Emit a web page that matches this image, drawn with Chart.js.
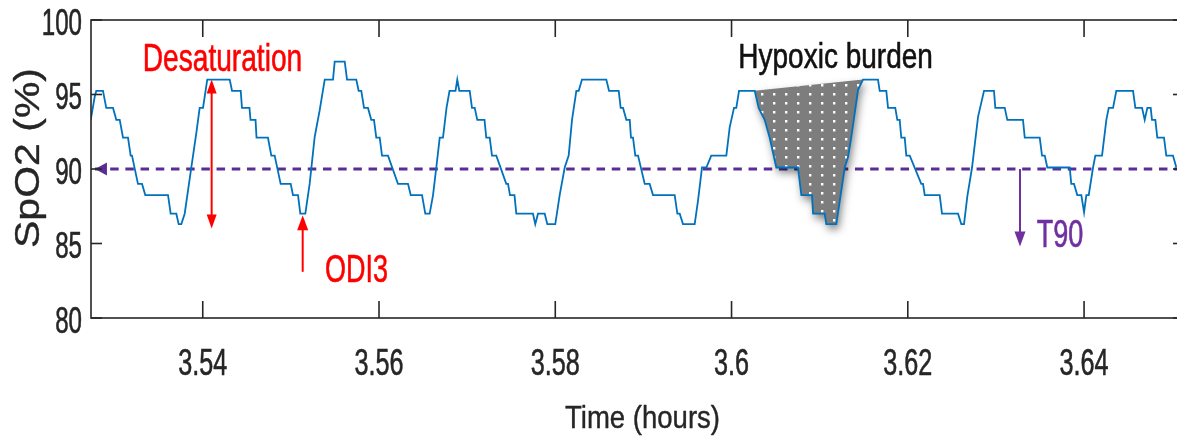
<!DOCTYPE html>
<html lang="en">
<head>
<meta charset="UTF-8" />
<title>SpO2 trace – desaturation, ODI3, T90, hypoxic burden</title>
<script src="https://cdn.jsdelivr.net/npm/chart.js@4.4.1/dist/chart.umd.min.js"></script>
<style>
html,body{margin:0;padding:0;background:#fff;overflow:hidden}
.wrap{width:1186px;height:439px;position:relative}
</style>
</head>
<body>
<div class="wrap"><canvas id="spo2Chart"></canvas></div>

<script>
/* ── trace: time (hours) / SpO2 (%) ─────────────────────────────── */
const timeH = [
  3.52729,3.52774,3.52792,3.52868,3.52905,3.52982,3.53019,3.53058,3.53095,3.53152,
  3.53182,3.53197,3.53265,3.53311,3.53348,3.53606,3.53636,3.53700,3.53727,3.53757,
  3.53795,3.53870,3.53927,3.53965,3.54003,3.54051,3.54306,3.54332,3.54431,3.54445,
  3.54530,3.54542,3.54599,3.54610,3.54740,3.54778,3.54816,3.54884,3.54998,3.55024,
  3.55081,3.55107,3.55164,3.55213,3.55270,3.55327,3.55384,3.55478,3.55497,3.55611,
  3.55637,3.55742,3.55769,3.55799,3.55830,3.55875,3.55912,3.55943,3.55969,3.56008,
  3.56034,3.56102,3.56215,3.56329,3.56360,3.56488,3.56525,3.56575,3.56613,3.56650,
  3.56689,3.56726,3.56766,3.56800,3.56868,3.56888,3.56911,3.57029,3.57055,3.57086,
  3.57115,3.57197,3.57217,3.57256,3.57282,3.57331,3.57444,3.57464,3.57486,3.57537,
  3.57558,3.57747,3.57773,3.57804,3.57880,3.57910,3.58000,3.58050,3.58107,3.58152,
  3.58190,3.58239,3.58266,3.58303,3.58579,3.58610,3.58720,3.58742,3.58769,3.58806,
  3.58845,3.58859,3.58882,3.58908,3.58939,3.59015,3.59071,3.59109,3.59355,3.59385,
  3.59412,3.59449,3.59582,3.59620,3.59665,3.59714,3.59770,3.59941,3.59979,3.60028,
  3.60054,3.60085,3.60263,3.60308,3.60376,3.60433,3.60508,3.60754,3.60792,3.60913,
  3.60925,3.61057,3.61075,3.61189,3.61284,3.61322,3.61359,3.61435,3.61492,3.61662,
  3.61681,3.61756,3.61776,3.61858,3.61881,3.61908,3.61926,3.61965,3.61983,3.62022,
  3.62153,3.62173,3.62192,3.62362,3.62388,3.62570,3.62607,3.62638,3.62675,3.62729,
  3.62797,3.62865,3.62978,3.62993,3.63100,3.63129,3.63307,3.63327,3.63497,3.63523,
  3.63554,3.63583,3.63837,3.63855,3.63886,3.63923,3.63969,3.64000,3.64026,3.64053,
  3.64102,3.64128,3.64204,3.64253,3.64280,3.64329,3.64366,3.64556,3.64582,3.64658,
  3.64688,3.64718,3.64756,3.64771,3.64809,3.64831,3.64907,3.64933,3.65009,3.65047
];
const spo2 = [
  93.3,94.85,95.25,95.25,94.1,94.1,93.3,93.3,92.1,92.1,
  90.9,90.9,89.0,89.0,88.25,88.25,87.0,87.0,86.3,86.3,
  87.0,90.1,92.4,94.1,94.1,96.0,96.0,95.25,95.25,94.1,
  94.1,93.3,93.3,92.1,92.1,90.9,90.9,89.0,89.0,88.25,
  88.25,87.0,87.0,89.0,92.15,93.95,96.0,96.0,97.2,97.2,
  96.0,96.0,95.25,95.25,94.1,94.1,93.3,93.3,92.1,92.1,
  90.9,90.9,89.0,89.0,88.25,88.25,87.0,87.0,88.25,90.1,
  92.1,92.1,94.1,95.25,95.25,96.0,95.25,95.25,94.1,94.1,
  93.3,93.3,92.1,92.1,90.9,90.9,89.0,89.0,88.25,88.25,
  87.0,87.0,86.3,87.0,87.0,86.3,86.3,88.25,90.1,90.9,
  93.3,95.25,95.25,96.0,96.0,95.25,95.25,94.1,94.1,93.3,
  93.3,92.1,92.1,90.9,90.9,89.0,89.0,88.25,88.25,87.0,
  87.0,86.3,86.3,87.9,90.1,90.1,90.9,90.9,92.8,94.1,
  94.1,95.25,95.25,94.1,93.3,92.1,90.1,90.1,88.25,88.25,
  87.0,87.0,86.3,86.3,90.1,90.8,92.15,95.3,96.0,96.0,
  95.25,95.25,94.1,94.1,93.3,93.3,92.1,92.1,90.9,90.9,
  89.0,89.0,88.25,88.25,87.0,87.0,86.3,86.3,88.15,90.1,
  93.5,95.25,95.25,94.1,94.1,93.3,93.3,92.1,92.1,90.9,
  90.9,90.1,90.1,89.0,89.0,88.25,88.25,87.1,88.25,88.25,
  90.1,90.9,90.9,93.3,94.1,94.1,95.25,95.25,94.1,94.1,
  93.3,94.1,94.1,93.3,93.3,92.1,92.1,90.9,90.9,90.1
];

const xTicks = [3.54, 3.56, 3.58, 3.6, 3.62, 3.64];
const yTicks = [80, 85, 90, 95, 100];
const xMin = 3.52732, xMax = 3.65134;

/* threshold line + annotations, in data units */
const threshold = 90;
const thresholdStart = 3.52777;
const burdenFrom = 3.60263, burdenTo = 3.61492;
const desatArrow = {t: 3.54101, top: 96, bottom: 86};
const odiArrow   = {t: 3.55134, tail: 83.1, tip: 86.9};
const t90Arrow   = {t: 3.63273, from: 90, to: 84.8};
const notes = [
  {text: 'Desaturation',   t: 3.53319, v: 96.6,  color: '#ff0000', size: 38, sx: 0.74},
  {text: 'ODI3',           t: 3.55387, v: 82.42, color: '#ff0000', size: 38, sx: 0.71},
  {text: 'Hypoxic burden', t: 3.60077, v: 96.76, color: '#111111', size: 35, sx: 0.80},
  {text: 'T90',            t: 3.63463, v: 84.79, color: '#7030a0', size: 38, sx: 0.71}
];

const FONT = '"Liberation Sans", Arial, Helvetica, sans-serif';
const AXIS = '#262626';
const TRACE = '#0072bd';
const DASH = '#5a2d92';

/* ── drawing helpers ─────────────────────────────────────────── */
// narrow text: squeezed horizontally, with a light outline so the strokes keep their weight
function label(ctx, text, x, y, o){
  ctx.save();
  ctx.translate(x, y);
  ctx.scale(o.sx || 1, 1);
  if (o.rotate) ctx.rotate(o.rotate);
  ctx.font = `${o.size}px ${FONT}`;
  ctx.fillStyle = ctx.strokeStyle = o.color || AXIS;
  ctx.lineWidth = o.weight == null ? 0.6 : o.weight;
  ctx.lineJoin = 'round';
  ctx.textAlign = o.align || 'left';
  ctx.textBaseline = 'alphabetic';
  ctx.fillText(text, 0, 0);
  if (ctx.lineWidth > 0) ctx.strokeText(text, 0, 0);
  ctx.restore();
}

function head(ctx, tx, ty, ang, len, half){
  const c = Math.cos(ang), s = Math.sin(ang);
  ctx.beginPath();
  ctx.moveTo(tx, ty);
  ctx.lineTo(tx - len*c + half*s, ty - len*s - half*c);
  ctx.lineTo(tx - len*c - half*s, ty - len*s + half*c);
  ctx.closePath();
  ctx.fill();
}

function seg(ctx, x1, y1, x2, y2){
  ctx.beginPath(); ctx.moveTo(x1, y1); ctx.lineTo(x2, y2); ctx.stroke();
}

let dots = null;
function dotPattern(ctx){
  if (dots) return dots;
  const c = document.createElement('canvas');
  c.width = 12; c.height = 9;
  const g = c.getContext('2d');
  g.fillStyle = '#7d7d7d'; g.fillRect(0, 0, 12, 9);
  g.fillStyle = '#ffffff'; g.fillRect(5, 3, 2.4, 2.5);
  dots = ctx.createPattern(c, 'repeat');
  return dots;
}

/* ── overlay plugin: burden patch, arrows, box axes, labels ───── */
const overlay = {
  id: 'overlay',
  afterDatasetDraw(chart, args){
    if (args.index !== 1) return;      // right after the threshold line
    const {ctx, scales: {x, y}} = chart;

    // arrowhead on the left end of the 90 % line
    ctx.save();
    ctx.fillStyle = DASH;
    head(ctx, x.getPixelForValue(thresholdStart), y.getPixelForValue(threshold), Math.PI, 12, 6.5);
    ctx.restore();

    // hypoxic burden: area between the trace and the line joining the two peaks
    const pts = timeH.map((t, i) => [t, spo2[i]])
      .filter(([t]) => t >= burdenFrom - 1e-6 && t <= burdenTo + 1e-6);
    ctx.save();
    ctx.beginPath();
    pts.forEach(([t, v], i) => {
      const px = x.getPixelForValue(t), py = y.getPixelForValue(v);
      i ? ctx.lineTo(px, py) : ctx.moveTo(px, py);
    });
    ctx.closePath();
    ctx.shadowColor = 'rgba(0,0,0,0.5)';
    ctx.shadowBlur = 8;
    ctx.shadowOffsetX = 2;
    ctx.shadowOffsetY = 5;
    ctx.fillStyle = dotPattern(ctx);
    ctx.fill();
    ctx.restore();
  },
  afterDatasetsDraw(chart){
    const {ctx, scales: {x, y}} = chart;
    ctx.save();
    ctx.lineWidth = 2;

    // desaturation depth (double headed)
    ctx.strokeStyle = ctx.fillStyle = '#ff0000';
    let px = x.getPixelForValue(desatArrow.t);
    let y1 = y.getPixelForValue(desatArrow.top), y2 = y.getPixelForValue(desatArrow.bottom);
    seg(ctx, px, y1 + 12, px, y2 - 12);
    head(ctx, px, y1, -Math.PI/2, 14, 5);
    head(ctx, px, y2, Math.PI/2, 14, 5);

    // ODI3 event marker
    px = x.getPixelForValue(odiArrow.t);
    y1 = y.getPixelForValue(odiArrow.tail); y2 = y.getPixelForValue(odiArrow.tip);
    seg(ctx, px, y1, px, y2 + 12);
    head(ctx, px, y2, -Math.PI/2, 15, 5.5);

    // T90 marker hanging from the threshold line
    ctx.strokeStyle = ctx.fillStyle = '#7030a0';
    px = x.getPixelForValue(t90Arrow.t);
    y1 = y.getPixelForValue(t90Arrow.from); y2 = y.getPixelForValue(t90Arrow.to);
    seg(ctx, px, y1, px, y2 - 12);
    head(ctx, px, y2, Math.PI/2, 15, 5.5);
    ctx.restore();

    notes.forEach(n => label(ctx, n.text, x.getPixelForValue(n.t), y.getPixelForValue(n.v), n));
  },
  afterDraw(chart){
    const {ctx, chartArea: {left, right, top, bottom}, scales: {x, y}} = chart;
    ctx.save();
    ctx.strokeStyle = AXIS;
    ctx.lineWidth = 1.6;
    ctx.strokeRect(left, top, right - left, bottom - top);
    xTicks.forEach(v => {
      const px = x.getPixelForValue(v);
      seg(ctx, px, bottom, px, bottom - 17);
      seg(ctx, px, top, px, top + 17);
    });
    yTicks.forEach(v => {
      const py = y.getPixelForValue(v);
      seg(ctx, left, py, left + 11, py);
      seg(ctx, right, py, right - 11, py);
    });
    ctx.restore();

    xTicks.forEach(v => label(ctx, String(v), x.getPixelForValue(v), 375, {size: 36, sx: 0.7, align: 'center'}));
    yTicks.forEach(v => label(ctx, String(v), 82, y.getPixelForValue(v) + 14.5, {size: 36, sx: 0.67, align: 'right'}));

    label(ctx, 'Time (hours)', 642.5, 428, {size: 32, sx: 0.86, align: 'center', weight: 0.4});
    label(ctx, 'SpO2 (%)', 39, 158, {size: 41, sx: 0.85, align: 'center', rotate: -Math.PI/2, weight: 0.4});
  }
};

/* ── chart ───────────────────────────────────────────────────── */
new Chart(document.getElementById('spo2Chart'), {
  type: 'line',
  data: {
    datasets: [
      {
        label: 'SpO2',
        data: timeH.map((t, i) => ({x: t, y: spo2[i]})),
        borderColor: TRACE, borderWidth: 1.8,
        pointRadius: 0, tension: 0, fill: false, order: 1
      },
      {
        label: '90 %',
        data: [{x: thresholdStart, y: threshold}, {x: xMax, y: threshold}],
        borderColor: DASH, borderWidth: 3, borderDash: [8.5, 6.7],
        pointRadius: 0, fill: false, order: 2
      }
    ]
  },
  options: {
    responsive: true,
    maintainAspectRatio: false,
    animation: false,
    events: [],
    layout: {padding: {left: 91, right: 2, top: 20, bottom: 121}},
    plugins: {legend: {display: false}, tooltip: {enabled: false}},
    scales: {
      x: {type: 'linear', min: xMin, max: xMax, display: false},
      y: {type: 'linear', min: 80, max: 100, display: false}
    }
  },
  plugins: [overlay]
});
</script>
</body>
</html>
